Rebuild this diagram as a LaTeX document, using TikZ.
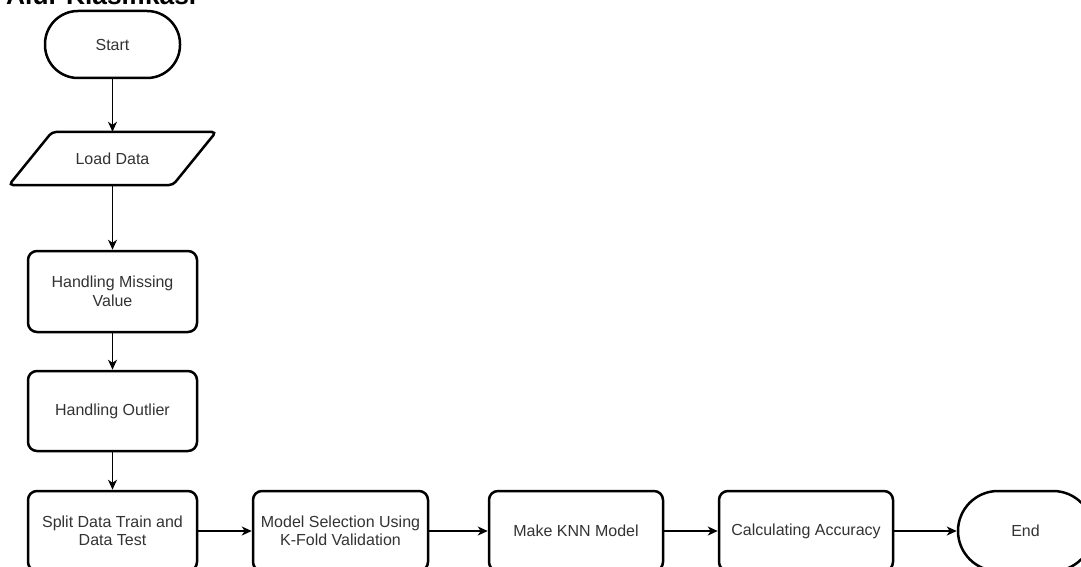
\documentclass[tikz,border=0pt]{standalone}
\usepackage{fontspec}
\setmainfont{Liberation Sans}
\usetikzlibrary{arrows.meta}
\definecolor{txt}{HTML}{333333}
\tikzset{
  box/.style={draw=black, line width=2.5pt, rounded corners=9pt, fill=white,
    minimum width=174pt, minimum height=80pt, align=center, text=txt,
    font=\fontsize{16}{18.5}\selectfont, inner sep=2pt},
  term/.style={box, minimum width=135pt},
  conn/.style={draw=black, line width=1.5pt, -{Stealth[length=10pt,width=9pt,inset=3pt]}},
}
\begin{document}
\begin{tikzpicture}[x=1pt,y=-1pt]
\useasboundingbox (0,0) rectangle (1081,567);
\clip (0,0) rectangle (1081,567);
\node[anchor=base west, inner sep=0pt, font=\fontsize{26.3}{30}\selectfont\bfseries] (title) at (6,5) {Alur Klasifikasi};
\node[term, minimum height=67pt, rounded corners=33pt] (start) at (112.5,44.5) {Start};
\draw[line width=2.5pt, rounded corners=4pt, fill=white] (9,185) -- (52,132) -- (216,132) -- (173,185) -- cycle;
\node[minimum width=161pt, minimum height=53pt, inner sep=0pt, text=txt, font=\fontsize{16}{18.5}\selectfont] (load) at (112.5,158.5) {Load Data};
\node[box, minimum width=169pt, minimum height=81pt] (hmv) at (112.5,291.5) {Handling Missing\\Value};
\node[box, minimum width=169pt] (ho) at (112.5,411) {Handling Outlier};
\node[box, minimum width=169pt] (split) at (112.5,531) {Split Data Train and\\Data Test};
\node[box, minimum width=175pt] (msel) at (340.5,531) {Model Selection Using\\K-Fold Validation};
\node[box] (knn) at (576,531) {Make KNN Model};
\node[box] (acc) at (806,531) {Calculating Accuracy};
\node[term, rounded corners=40pt] (end) at (1025.5,531) {End};
\draw[conn] (start.south) -- (load.north);
\draw[conn] (load.south) -- (hmv.north);
\draw[conn] (hmv.south) -- (ho.north);
\draw[conn] (ho.south) -- (split.north);
\draw[conn] (split.east) -- (msel.west);
\draw[conn] (msel.east) -- (knn.west);
\draw[conn] (knn.east) -- (acc.west);
\draw[conn] (acc.east) -- (end.west);
\end{tikzpicture}
\end{document}
